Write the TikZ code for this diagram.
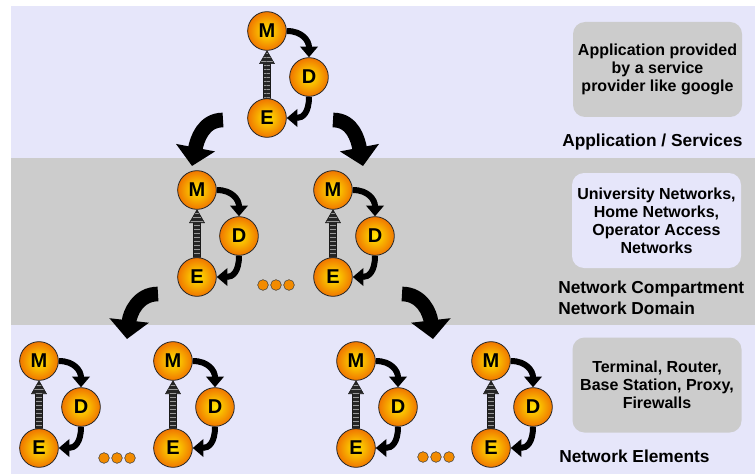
\documentclass[tikz,border=0pt]{standalone}
\usepackage{fontspec}
\setmainfont{Liberation Sans}
\usetikzlibrary{arrows, arrows.meta}
\usetikzlibrary{calc}
\usetikzlibrary{patterns}
\definecolor{lav}{RGB}{230,230,250}
\definecolor{band}{RGB}{204,204,204}
\definecolor{ballout}{RGB}{240,118,0}
\definecolor{ballin}{RGB}{255,232,0}

\begin{document}
\begin{tikzpicture}[x=0.75pt, y=-0.75pt,
  ball/.style={circle, draw=black!85, line width=0.6pt, inner color=ballin, outer color=ballout, minimum size=29pt, inner sep=0pt, font=\fontsize{15}{15}\selectfont\bfseries},
  dot/.style={circle, draw=black!75, fill=ballout!85!yellow, minimum size=8pt, inner sep=0pt},
  swoop/.style={line width=4.5pt, -{Triangle[width=13pt, length=8pt]}},
  bigswoop/.style={line width=11pt, -{Triangle[width=29pt, length=14pt]}},
  uparrow/.style={draw=black!90, preaction={fill=black!85}, pattern=horizontal lines, pattern color=black!40},
  infobox/.style={rounded corners=9pt, minimum width=126.75pt, minimum height=71.25pt, align=center, font=\fontsize{12}{13.5}\selectfont\bfseries},
  layer/.style={anchor=west, inner sep=0pt, align=left, font=\fontsize{13}{15.75}\selectfont\bfseries}]
  \useasboundingbox (0,0) rectangle (755,474);

  \fill[lav] (11,6) rectangle (755,158);
  \fill[band] (11,158) rectangle (755,325);
  \fill[lav] (11,325) rectangle (755,474);

  \node[infobox, fill=band] (app) at (657.5,69.5) {Application provided\\by a service\\provider like google};
  \node[infobox, fill=lav] (dom) at (656.5,220.5) {University Networks,\\Home Networks,\\Operator Access\\Networks};
  \node[infobox, fill=band] (elem) at (657,385) {Terminal, Router,\\Base Station, Proxy,\\Firewalls};

  \node[layer] (l1) at (562,142) {Application / Services};
  \node[layer] (l2) at (558,297.5) {Network Compartment\\Network Domain};
  \node[layer] (l3) at (559,456) {Network Elements};

  \foreach \mx/\my/\i in {267/31/1, 197/190/2, 333/190/3, 39/361/4, 173/361/5, 356/361/6, 491/361/7} {
    \node[ball] (m\i) at (\mx,\my) {M};
    \node[ball] (d\i) at (\mx+42,\my+46) {D};
    \node[ball] (e\i) at (\mx,\my+87) {E};
    \draw[swoop] (m\i.east) .. controls +(16,0) and +(0,-16) .. (d\i.north);
    \draw[swoop] (d\i.south) .. controls +(0,16) and +(16,0) .. (e\i.east);
    \draw[uparrow] ($(e\i.north)+(-3.5,0)$) -- ($(m\i.south)+(-3.5,13)$) -- ($(m\i.south)+(-7.5,13)$) -- (m\i.south)
      -- ($(m\i.south)+(7.5,13)$) -- ($(m\i.south)+(3.5,13)$) -- ($(e\i.north)+(3.5,0)$) -- cycle;
  }

  \foreach \dx/\dy/\g in {263/285/a, 104/458/b, 423/457/c}
    \foreach \k in {0,1,2}
      \node[dot] (dot\g\k) at (\dx+13*\k,\dy) {};

  \coordinate (a1) at (223,120);
  \coordinate (a2) at (192,166);
  \coordinate (b1) at (333,120);
  \coordinate (b2) at (363,166);
  \coordinate (c1) at (158,294);
  \coordinate (c2) at (127,339);
  \coordinate (d1) at (402,294);
  \coordinate (d2) at (433,339);
  \draw[bigswoop] (a1) .. controls +(-20,0) and +(5,-26) .. (a2);
  \draw[bigswoop] (b1) .. controls +(20,0) and +(-5,-26) .. (b2);
  \draw[bigswoop] (c1) .. controls +(-20,0) and +(3,-26) .. (c2);
  \draw[bigswoop] (d1) .. controls +(20,0) and +(-3,-26) .. (d2);
\end{tikzpicture}
\end{document}
